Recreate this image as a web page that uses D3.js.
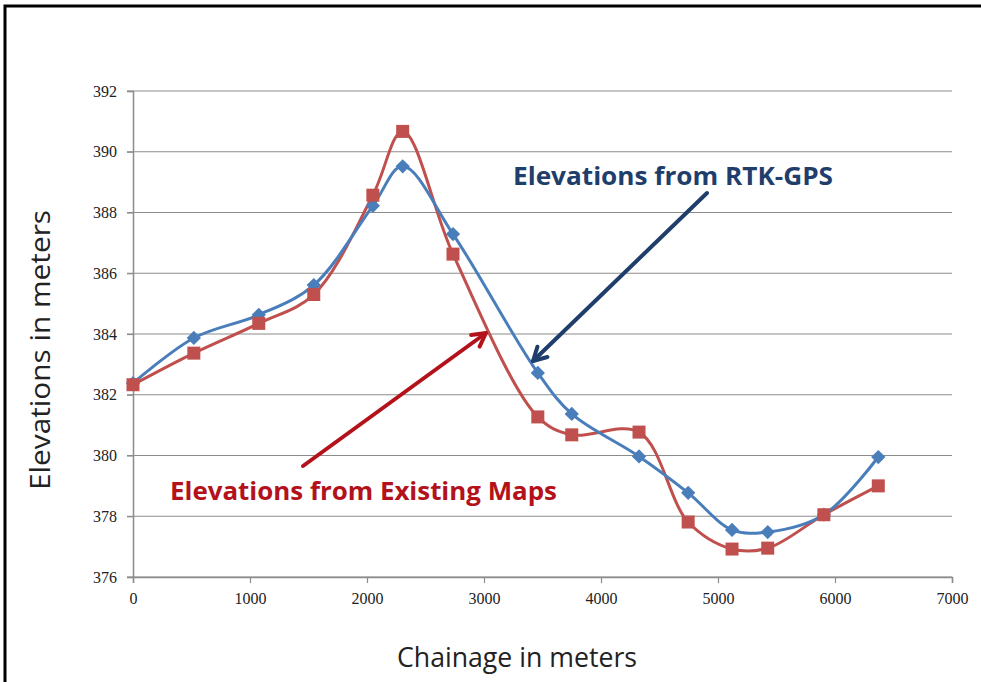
<!DOCTYPE html>
<html><head><meta charset="utf-8">
<script src="https://cdn.jsdelivr.net/npm/d3@7"></script>
<style>body{margin:0;background:#fff;overflow:hidden}svg{display:block}</style>
</head><body>
<svg id="c" width="981" height="682"></svg>
<script>
const chainage = [0, 520, 1075, 1545, 2050, 2305, 2735, 3460, 3750, 4325, 4745, 5120, 5425, 5905, 6370];
const rtkGps   = [382.38, 383.87, 384.63, 385.61, 388.22, 389.52, 387.29, 382.72, 381.37, 379.97, 378.77, 377.55, 377.48, 378.05, 379.95];
const mapsElev = [382.33, 383.37, 384.35, 385.30, 388.57, 390.67, 386.63, 381.27, 380.68, 380.77, 377.81, 376.92, 376.95, 378.05, 379.00];
const xTicks = [0, 1000, 2000, 3000, 4000, 5000, 6000, 7000];
const yTicks = [376, 378, 380, 382, 384, 386, 388, 390, 392];

const svg = d3.select("#c");
const x = d3.scaleLinear().domain([0, 7000]).range([133, 952]);
const y = d3.scaleLinear().domain([376, 392]).range([577, 91]);

// frame
svg.append("rect").attr("x", 5).attr("y", 6).attr("width", 1200).attr("height", 900)
  .attr("fill", "none").attr("stroke", "#000").attr("stroke-width", 3);

// gridlines
svg.append("g").selectAll("line").data(yTicks).join("line")
  .attr("x1", 127).attr("x2", 952).attr("y1", d => y(d)).attr("y2", d => y(d))
  .attr("stroke", "#8c8c8c").attr("stroke-width", 1.2);

// y axis
const yAx = svg.append("g").attr("transform", "translate(133,0)")
  .call(d3.axisLeft(y).tickValues(yTicks).tickFormat(d3.format("d")).tickSize(6).tickPadding(10));
// x axis
const xAx = svg.append("g").attr("transform", "translate(0,577)")
  .call(d3.axisBottom(x).tickValues(xTicks).tickFormat(d3.format("d")).tickSize(6).tickPadding(10));
[yAx, xAx].forEach(a => {
  a.select(".domain").attr("stroke", "#8c8c8c").attr("stroke-width", 1.5);
  a.selectAll(".tick line").attr("stroke", "#8c8c8c").attr("stroke-width", 1.2);
  a.selectAll("text").attr("font-family", "Liberation Serif").attr("font-size", 16).attr("fill", "#222");
});

// series
const line = d3.line().x((d, i) => x(chainage[i])).y(d => y(d)).curve(d3.curveCatmullRom.alpha(0.5));
svg.append("path").datum(mapsElev).attr("d", line).attr("fill", "none")
  .attr("stroke", "#C0504D").attr("stroke-width", 3);
svg.append("path").datum(rtkGps).attr("d", line).attr("fill", "none")
  .attr("stroke", "#4A7EBB").attr("stroke-width", 3);

svg.append("g").selectAll("path").data(rtkGps).join("path")
  .attr("d", d3.symbol(d3.symbolDiamond2, 130)())
  .attr("transform", (d, i) => `translate(${x(chainage[i])},${y(d)})`)
  .attr("fill", "#4A7EBB");
svg.append("g").selectAll("rect").data(mapsElev).join("rect")
  .attr("x", (d, i) => x(chainage[i]) - 6.5).attr("y", d => y(d) - 6.5)
  .attr("width", 13).attr("height", 13).attr("fill", "#C0504D");

// axis titles
svg.append("text").attr("x", 517).attr("y", 667).attr("text-anchor", "middle")
  .attr("font-family", "Open Sans").attr("font-size", 27).attr("fill", "#222")
  .attr("textLength", 240).attr("lengthAdjust", "spacingAndGlyphs")
  .text("Chainage in meters");
svg.append("text").attr("transform", "translate(50,350) rotate(-90)").attr("text-anchor", "middle")
  .attr("font-family", "Open Sans").attr("font-size", 27).attr("fill", "#222")
  .attr("textLength", 280).attr("lengthAdjust", "spacingAndGlyphs")
  .text("Elevations in meters");

// annotations
svg.append("text").attr("x", 513).attr("y", 185)
  .attr("font-family", "Open Sans").attr("font-weight", "bold").attr("font-size", 25).attr("fill", "#1F3E6B")
  .attr("textLength", 320).attr("lengthAdjust", "spacingAndGlyphs")
  .text("Elevations from RTK-GPS");
svg.append("text").attr("x", 170).attr("y", 500)
  .attr("font-family", "Open Sans").attr("font-weight", "bold").attr("font-size", 25).attr("fill", "#B3121B")
  .attr("textLength", 387).attr("lengthAdjust", "spacingAndGlyphs")
  .text("Elevations from Existing Maps");

function arrow(x1, y1, x2, y2, color) {
  svg.append("line").attr("x1", x1).attr("y1", y1).attr("x2", x2).attr("y2", y2)
    .attr("stroke", color).attr("stroke-width", 4).attr("stroke-linecap", "round");
  const a = Math.atan2(y2 - y1, x2 - x1), L = 15, s = 0.5;
  const p1 = [x2 - L * Math.cos(a - s), y2 - L * Math.sin(a - s)];
  const p2 = [x2 - L * Math.cos(a + s), y2 - L * Math.sin(a + s)];
  svg.append("path").attr("d", `M${p1}L${x2},${y2}L${p2}`).attr("fill", "none")
    .attr("stroke", color).attr("stroke-width", 4).attr("stroke-linecap", "round").attr("stroke-linejoin", "round");
}
arrow(707, 193, 533, 361, "#1F3E6B");
arrow(303, 466, 486, 333, "#B3121B");
</script>
</body></html>
